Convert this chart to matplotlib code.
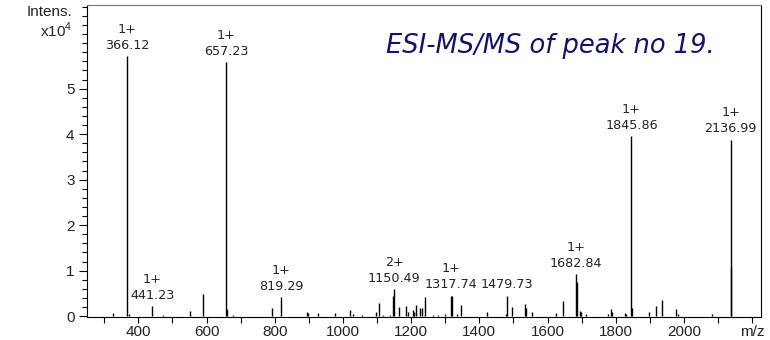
import matplotlib
matplotlib.use("Agg")
import matplotlib.pyplot as plt
from matplotlib.ticker import MultipleLocator

plt.rcParams["font.family"] = "Liberation Sans"
plt.rcParams["mathtext.fontset"] = "custom"
plt.rcParams["mathtext.rm"] = "Liberation Sans"

# labelled peaks (m/z, intensity x10^4, charge label)
peak_mz = [366.12, 441.23, 657.23, 819.29, 1150.49, 1317.74, 1479.73, 1682.84, 1845.86, 2136.99]
peak_int = [5.71, 0.22, 5.58, 0.41, 0.60, 0.45, 0.45, 0.92, 3.96, 3.88]
peak_charge = ["1+", "1+", "1+", "1+", "2+", "1+", "", "1+", "1+", "1+"]

# unlabelled minor peaks
minor_mz = [326, 373, 473, 551, 590, 661, 677, 793, 895, 899, 927, 976, 1022, 1030,
            1057, 1098, 1106, 1117, 1137, 1147, 1165, 1186, 1191, 1204, 1208, 1214,
            1227, 1232, 1241, 1264, 1279, 1300, 1319, 1335, 1346, 1421, 1477, 1497,
            1534, 1538, 1553, 1624, 1644, 1686, 1695, 1698, 1712, 1776, 1787, 1790,
            1827, 1830, 1848, 1898, 1917, 1935, 1976, 1981, 2081, 2139]
minor_int = [0.06, 0.05, 0.02, 0.11, 0.48, 0.16, 0.03, 0.17, 0.09, 0.06, 0.07, 0.07, 0.13, 0.04,
             0.03, 0.10, 0.29, 0.03, 0.02, 0.45, 0.21, 0.22, 0.10, 0.13, 0.10, 0.25,
             0.17, 0.18, 0.42, 0.03, 0.02, 0.04, 0.44, 0.04, 0.24, 0.08, 0.05, 0.21,
             0.27, 0.17, 0.10, 0.06, 0.33, 0.76, 0.12, 0.10, 0.04, 0.05, 0.16, 0.10,
             0.06, 0.05, 0.17, 0.10, 0.22, 0.35, 0.16, 0.04, 0.05, 1.08]

x_ticks = [400, 600, 800, 1000, 1200, 1400, 1600, 1800, 2000, 2200]
x_labels = ["400", "600", "800", "1000", "1200", "1400", "1600", "1800", "2000", "m/z"]
y_ticks = [0, 1, 2, 3, 4, 5]

fig = plt.figure(figsize=(7.7, 3.4), dpi=100)
ax = fig.add_axes([87 / 770, 1 - 317 / 340, (761 - 87) / 770, (317 - 5) / 340])

ax.vlines(minor_mz, 0, minor_int, color="black", lw=1.0)
ax.vlines(peak_mz, 0, peak_int, color="black", lw=1.0)

for mz, h, z in zip(peak_mz, peak_int, peak_charge):
    txt = f"{z}\n{mz:.2f}" if z else f"{mz:.2f}"
    ax.annotate(txt, (mz, h), xytext=(0, 3), textcoords="offset points",
                ha="center", va="bottom", fontsize=9.2, family="DejaVu Sans",
                linespacing=1.3, color="#222222")

ax.set_xlim(249.6, 2225.7)
ax.set_ylim(-0.02, 6.84)
ax.set_xticks(x_ticks)
ax.set_xticklabels(x_labels, fontsize=11, color="#222222")
ax.xaxis.set_minor_locator(MultipleLocator(100))
ax.set_yticks(y_ticks)
ax.set_yticklabels([str(v) for v in y_ticks], fontsize=11, color="#222222")
ax.yaxis.set_minor_locator(MultipleLocator(0.2))
ax.tick_params(axis="x", which="major", length=4, width=0.8, pad=2)
ax.tick_params(axis="x", which="minor", length=4, width=0.8)
ax.tick_params(axis="y", which="major", length=6, width=0.8, pad=3)
ax.tick_params(axis="y", which="minor", length=3.5, width=0.8)
for s in ["left", "bottom", "right"]:
    ax.spines[s].set_color("black")
ax.spines["top"].set_color("#777777")

fig.text(72 / 770, 1 - 12 / 340, "Intens.", ha="right", va="center", fontsize=11, color="#222222")
fig.text(72 / 770, 1 - 30 / 340, r"x10$^{\mathregular{4}}$", ha="right", va="center",
         fontsize=11, color="#222222")

fig.text(386 / 770, 1 - 46 / 340, "ESI-MS/MS of peak no 19.", ha="left", va="center",
         fontsize=18.5, style="italic", family="DejaVu Sans", color="#12126b")

fig.savefig("out.png", dpi=100)
